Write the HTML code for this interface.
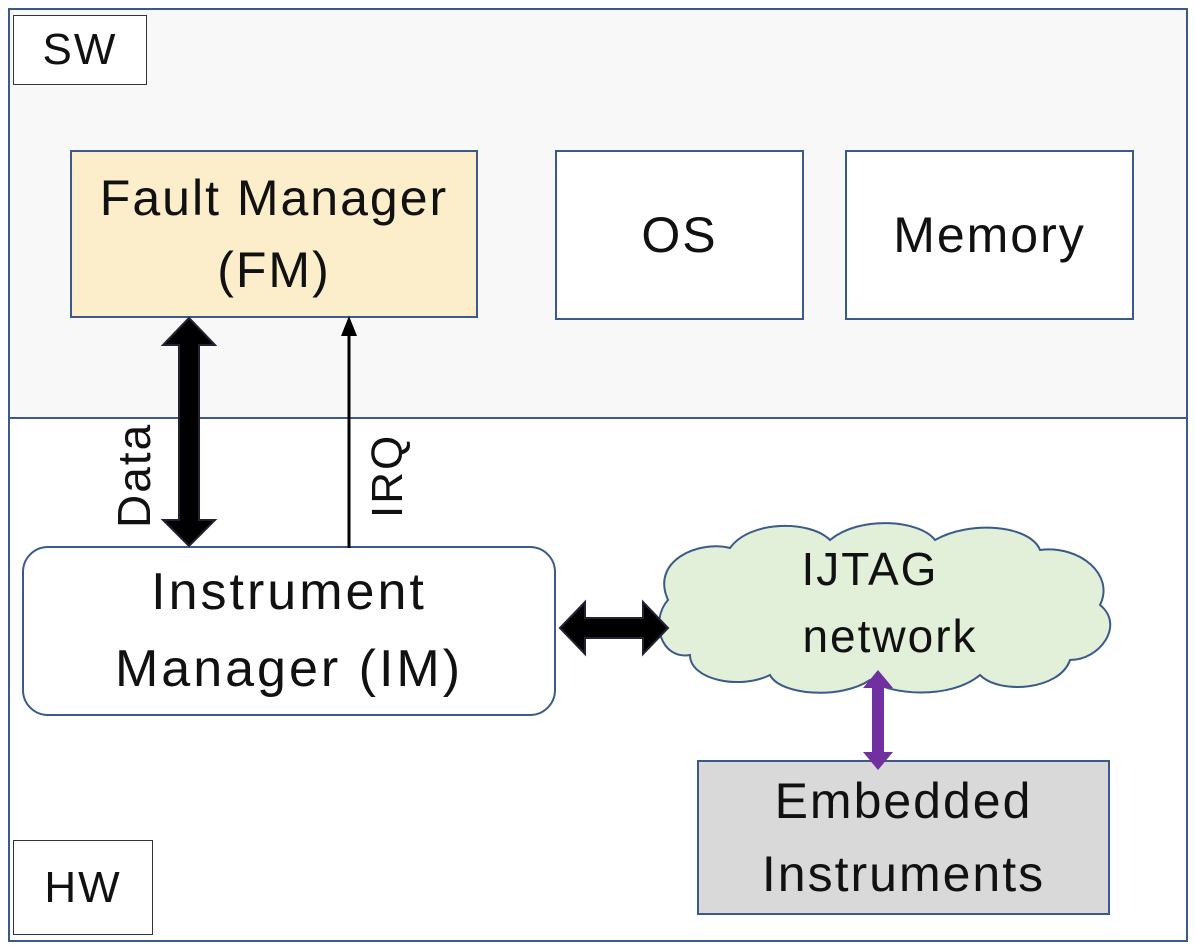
<!DOCTYPE html>
<html><head><style>
body{margin:0;width:1196px;height:949px;background:#fff;font-family:"Liberation Sans",sans-serif;overflow:hidden}
.a{position:absolute;box-sizing:border-box;display:flex;align-items:center;justify-content:center;text-align:center;color:#111}
</style></head><body>
<div class="a" style="left:8px;top:8px;width:1180px;height:411px;background:#f8f8f8;border:2px solid #3b5a8a"></div>
<div class="a" style="left:8px;top:417px;width:1180px;height:525px;background:#fff;border:2px solid #3b5a8a"></div>
<div class="a" style="left:13px;top:15px;width:134px;height:70px;background:#fff;border:1.5px solid #333;font-size:44px;letter-spacing:2px">SW</div>
<div class="a" style="left:13px;top:840px;width:140px;height:95px;background:#fff;border:1.5px solid #333;font-size:44px;letter-spacing:2px">HW</div>
<div class="a" style="left:70px;top:150px;width:408px;height:168px;background:#fdeecb;border:2px solid #3b5a8a;font-size:50px;line-height:72px;letter-spacing:2px">Fault Manager<br>(FM)</div>
<div class="a" style="left:555px;top:150px;width:249px;height:170px;background:#fff;border:2px solid #3b5a8a;font-size:50px;letter-spacing:2px">OS</div>
<div class="a" style="left:845px;top:150px;width:289px;height:170px;background:#fff;border:2px solid #3b5a8a;font-size:50px;letter-spacing:2px">Memory</div>
<div class="a" style="left:22px;top:546px;width:534px;height:170px;background:#fff;border:2px solid #3b5a8a;border-radius:26px;font-size:52px;line-height:77px;letter-spacing:3px">Instrument<br>Manager (IM)</div>
<div class="a" style="left:697px;top:760px;width:413px;height:155px;background:#d9d9d9;border:2px solid #3b5a8a;font-size:50px;line-height:73px;letter-spacing:2px">Embedded<br>Instruments</div>
<svg width="1196" height="949" style="position:absolute;left:0;top:0">
<path d="M668,600 C650,560 700,540 730,548 C750,520 810,520 830,540 C860,515 920,520 935,540 C970,520 1030,525 1040,550 C1080,545 1115,575 1100,605 C1125,625 1100,660 1070,660 C1060,690 1000,695 980,675 C950,700 890,695 870,680 C840,700 780,695 770,675 C740,690 690,680 690,655 C660,660 650,620 668,600 Z" fill="#e2efd9" stroke="#3b5a8a" stroke-width="2"/>
<text x="870" y="585" font-size="46" text-anchor="middle" fill="#111" letter-spacing="2">IJTAG</text>
<text x="890" y="652" font-size="46" text-anchor="middle" fill="#111" letter-spacing="2">network</text>
<polygon points="189,318 215,345 199,345 199,520 215,520 189,546 163,520 179,520 179,345 163,345" fill="#000" stroke="#223" stroke-width="2"/>
<line x1="349" y1="548" x2="349" y2="335" stroke="#000" stroke-width="3"/>
<polygon points="349,316 341,336 357,336" fill="#000"/>
<polygon points="560,628 585,602 585,618 643,618 643,602 668,628 643,654 643,638 585,638 585,654" fill="#000" stroke="#223" stroke-width="2"/>
<polygon points="878,670 893,688 884,688 884,752 893,752 878,770 863,752 872,752 872,688 863,688" fill="#7030a0"/>
<text transform="translate(150,528) rotate(-90)" font-size="46" fill="#111" letter-spacing="2">Data</text>
<text transform="translate(402,518) rotate(-90)" font-size="44" fill="#111" letter-spacing="2">IRQ</text>
</svg>
</body></html>
